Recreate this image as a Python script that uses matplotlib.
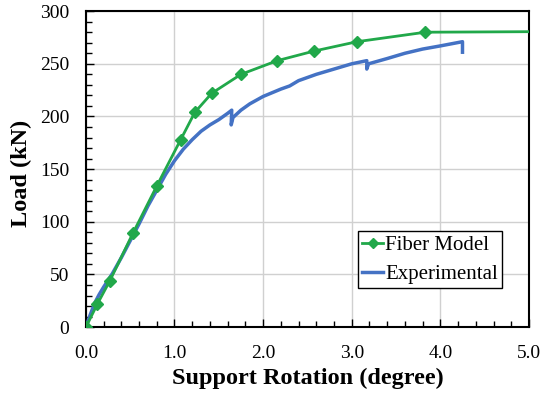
import matplotlib
matplotlib.use("Agg")
import matplotlib.pyplot as plt
from matplotlib.ticker import MultipleLocator, FormatStrFormatter

plt.rcParams.update({
    "font.family": "serif",
    "font.serif": ["Liberation Serif", "DejaVu Serif"],
    "xtick.direction": "in",
    "ytick.direction": "in",
})

# Fiber model (markers)
fiber_rot = [0.0, 0.13, 0.27, 0.53, 0.80, 1.07, 1.23, 1.42, 1.75, 2.16, 2.57, 3.06, 3.83, 5.0]
fiber_load = [0, 22, 44, 89, 134, 178, 204, 222, 240, 253, 262, 271, 280, 280.5]
fiber_marker_rot = fiber_rot[:-1]
fiber_marker_load = fiber_load[:-1]

# Experimental curve
exp_rot = [0.0, 0.05, 0.10, 0.15, 0.20, 0.30, 0.40, 0.50, 0.60, 0.70, 0.80, 0.90,
           1.00, 1.10, 1.20, 1.30, 1.40, 1.50, 1.60, 1.646, 1.64, 1.66, 1.75, 1.85,
           2.00, 2.20, 2.30, 2.40, 2.60, 2.80, 3.00, 3.17, 3.17, 3.19, 3.40, 3.60,
           3.80, 4.00, 4.25, 4.25]
exp_load = [0, 12, 23, 31, 38, 51, 66, 82, 98, 115, 130, 145,
            158, 169, 178, 186, 192, 197, 203, 206, 192, 199, 206, 212,
            219, 226, 229, 234, 240, 245, 250, 253, 245, 250, 255, 260,
            264, 267, 271, 261]

green = "#21A84A"
blue = "#4472C4"

fig = plt.figure(figsize=(5.47, 3.98), dpi=100)
ax = fig.add_axes([0.157, 0.178, 0.81, 0.794])

ax.plot(exp_rot, exp_load, color=blue, lw=2.5, zorder=3, label="_nolegend_")
ax.plot(fiber_rot, fiber_load, color=green, lw=2, zorder=4)
ax.plot(fiber_marker_rot, fiber_marker_load, ls="none", marker="D", ms=6,
        color=green, zorder=5)

# legend proxies
ax.plot([], [], color=green, lw=2, marker="D", ms=5, label="Fiber Model")
ax.plot([], [], color=blue, lw=2.5, label="Experimental")

ax.set_xlim(0, 5)
ax.set_ylim(0, 300)
ax.xaxis.set_major_locator(MultipleLocator(1))
ax.xaxis.set_minor_locator(MultipleLocator(0.2))
ax.yaxis.set_major_locator(MultipleLocator(50))
ax.yaxis.set_minor_locator(MultipleLocator(10))
ax.xaxis.set_major_formatter(FormatStrFormatter("%.1f"))
ax.grid(True, which="major", color="#d0d0d0", lw=1)
ax.set_axisbelow(True)
ax.tick_params(which="major", length=6, width=1, labelsize=14, pad=12)
ax.tick_params(axis="x", pad=13)
ax.tick_params(which="minor", length=4, width=1)
for s in ax.spines.values():
    s.set_linewidth(1.5)

ax.set_xlabel("Support Rotation (degree)", fontsize=17.5, fontweight="bold")
ax.set_ylabel("Load (kN)", fontsize=17.5, fontweight="bold")
ax.xaxis.set_label_coords(0.5, -0.13)
ax.yaxis.set_label_coords(-0.122, 0.487)

leg = ax.legend(loc="lower right", bbox_to_anchor=(0.939, 0.123), fontsize=15,
                frameon=True, fancybox=False, edgecolor="black", framealpha=1,
                handlelength=1.0, handletextpad=0.1, borderpad=0.2, borderaxespad=0,
                labelspacing=0.45)
leg.get_frame().set_linewidth(1)

fig.savefig("out.png", dpi=100)
